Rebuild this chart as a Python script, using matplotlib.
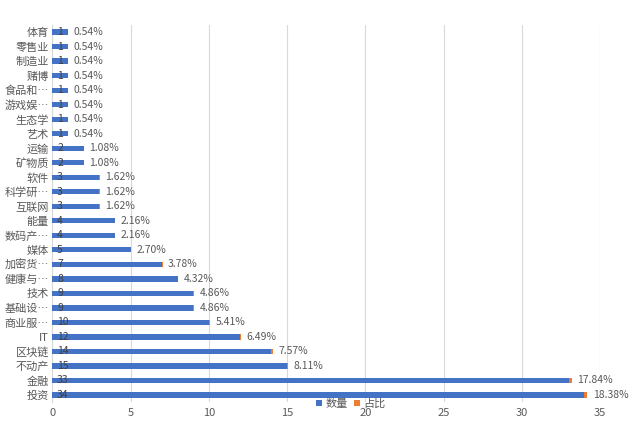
import numpy as np
import matplotlib.pyplot as plt

plt.rcParams['font.family'] = ['Noto Sans CJK SC', 'DejaVu Sans']

# bottom to top
categories = ['投资', '金融', '不动产', '区块链', 'IT', '商业服…', '基础设…', '技术',
              '健康与…', '加密货…', '媒体', '数码产…', '能量', '互联网', '科学研…',
              '软件', '矿物质', '运输', '艺术', '生态学', '游戏娱…', '食品和…',
              '赌博', '制造业', '零售业', '体育']
counts = [34, 33, 15, 14, 12, 10, 9, 9, 8, 7, 5, 4, 4, 3, 3, 3, 2, 2, 1, 1, 1, 1, 1, 1, 1, 1]
shares = [0.1838, 0.1784, 0.0811, 0.0757, 0.0649, 0.0541, 0.0486, 0.0486, 0.0432,
          0.0378, 0.0270, 0.0216, 0.0216, 0.0162, 0.0162, 0.0162, 0.0108, 0.0108,
          0.0054, 0.0054, 0.0054, 0.0054, 0.0054, 0.0054, 0.0054, 0.0054]

blue = '#4472C4'
orange = '#ED7D31'
txt = '#404040'
gray = '#595959'

fig = plt.figure(figsize=(6.39, 4.22), dpi=100)
ax = fig.add_axes([0.082, 0.047, 0.857, 0.894])

y = np.arange(len(categories))
ax.barh(y, counts, height=0.37, color=blue, label='数量', zorder=3)
ax.barh(y, shares, left=counts, height=0.37, color=orange, label='占比', zorder=3)

for yi, c, s in zip(y, counts, shares):
    ax.text(0.3, yi, str(c), ha='left', va='center', fontsize=7.5, color=txt, zorder=4)
    ax.annotate(f'{s*100:.2f}%', xy=(c + s, yi), xytext=(4, 0), textcoords='offset points',
                ha='left', va='center', fontsize=7.5, color=gray, zorder=4)

ax.set_xlim(0, 35)
ax.set_ylim(-0.5, len(categories) - 0.5)
ax.set_xticks(np.arange(0, 36, 5))
ax.set_yticks(y)
ax.set_yticklabels(categories)
ax.tick_params(axis='both', length=0, labelsize=8, labelcolor=gray)
ax.tick_params(axis='x', pad=4)
ax.tick_params(axis='y', pad=2.5)
ax.grid(axis='x', color='#D9D9D9', linewidth=0.8, zorder=0)
for sp in ['top', 'right', 'bottom']:
    ax.spines[sp].set_visible(False)
ax.spines['left'].set_color('#D9D9D9')

ax.legend(loc='center', bbox_to_anchor=(0.545, -0.005), ncol=2, frameon=False,
          fontsize=8, handlelength=0.5, handleheight=0.5, handletextpad=0.3,
          columnspacing=0.6, labelcolor=gray)

plt.savefig('out.png', dpi=100)
